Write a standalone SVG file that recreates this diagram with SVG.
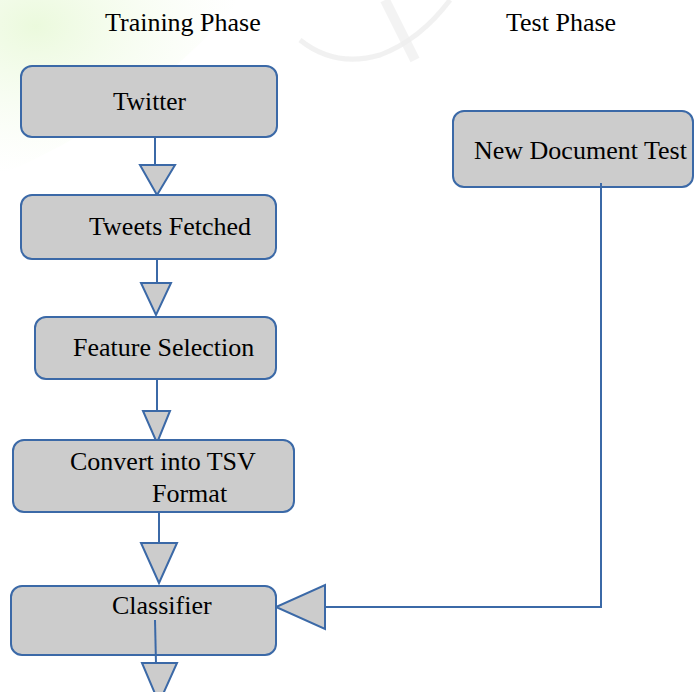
<svg xmlns="http://www.w3.org/2000/svg" width="695" height="692" viewBox="0 0 695 692">
  <style>
    .box { fill: #cccccc; stroke: #3b69a7; stroke-width: 2; }
    .lbl { font-family: "Liberation Serif", "Times New Roman", serif; font-size: 26px; fill: #000000; }
    .wire { fill: none; stroke: #3b69a7; stroke-width: 2; }
    .head { fill: #cccccc; stroke: #3b69a7; stroke-width: 2; stroke-linejoin: miter; }
  </style>
  <defs>
    <radialGradient id="tint" cx="0.15" cy="0.15" r="0.85">
      <stop offset="0" stop-color="#e9f9d9" stop-opacity="0.9"/>
      <stop offset="1" stop-color="#f4fcec" stop-opacity="0"/>
    </radialGradient>
  </defs>
  <rect width="695" height="692" fill="#ffffff"/>
  <!-- faint background wash -->
  <path d="M0 0 L240 0 Q190 60 120 110 Q60 150 0 175 Z" fill="url(#tint)"/>
  <path d="M300 40 Q335 68 380 55 Q420 40 450 0" fill="none" stroke="#eeeeee" stroke-width="5" opacity="0.8"/>
  <path d="M385 0 L415 60" fill="none" stroke="#eeeeee" stroke-width="10" opacity="0.7"/>

  <!-- column headings -->
  <text class="lbl" x="105" y="31">Training Phase</text>
  <text class="lbl" x="506" y="31">Test Phase</text>

  <!-- connectors -->
  <g id="connectors">
    <line class="wire" x1="155" y1="137" x2="155" y2="172"/>
    <polygon class="head" points="140,165 175,165 157,195"/>

    <line class="wire" x1="157" y1="259" x2="157" y2="288"/>
    <polygon class="head" points="141,283 171,283 156,315"/>

    <line class="wire" x1="157" y1="379" x2="157" y2="420"/>
    <polygon class="head" points="143,411 170,411 157,443"/>

    <line class="wire" x1="159" y1="512" x2="159" y2="543"/>
    <polygon class="head" points="141,543 177,543 159,583"/>

    <polygon class="head" points="142,663 177,663 159,703"/>

    <polyline class="wire" points="601,183 601,607 325,607"/>
    <polygon class="head" points="325,585 325,629 276,607"/>
  </g>

  <!-- nodes -->
  <g id="twitter">
    <rect class="box" x="21" y="66" width="256" height="71" rx="11"/>
    <text class="lbl" x="113" y="110" textLength="73" lengthAdjust="spacingAndGlyphs">Twitter</text>
  </g>
  <g id="tweets-fetched">
    <rect class="box" x="21" y="195" width="255" height="64" rx="11"/>
    <text class="lbl" x="89" y="235">Tweets Fetched</text>
  </g>
  <g id="feature-selection">
    <rect class="box" x="35" y="317" width="241" height="62" rx="11"/>
    <text class="lbl" x="73" y="356">Feature Selection</text>
  </g>
  <g id="convert-tsv">
    <rect class="box" x="13" y="440" width="281" height="72" rx="11"/>
    <text class="lbl" x="70" y="470">Convert into TSV</text>
    <text class="lbl" x="152" y="502">Format</text>
  </g>
  <g id="classifier">
    <rect class="box" x="11" y="586" width="265" height="69" rx="11"/>
    <text class="lbl" x="112" y="614">Classifier</text>
  </g>
  <g id="new-document-test">
    <rect class="box" x="453" y="111" width="240" height="76" rx="11"/>
    <text class="lbl" x="474" y="159">New Document Test</text>
  </g>

  <!-- line segments that sit on top of the boxes -->
  <g id="overlay-connectors">
    <line class="wire" x1="155" y1="620" x2="156" y2="664"/>
    <line class="wire" x1="601" y1="183" x2="601" y2="190"/>
  </g>
</svg>
